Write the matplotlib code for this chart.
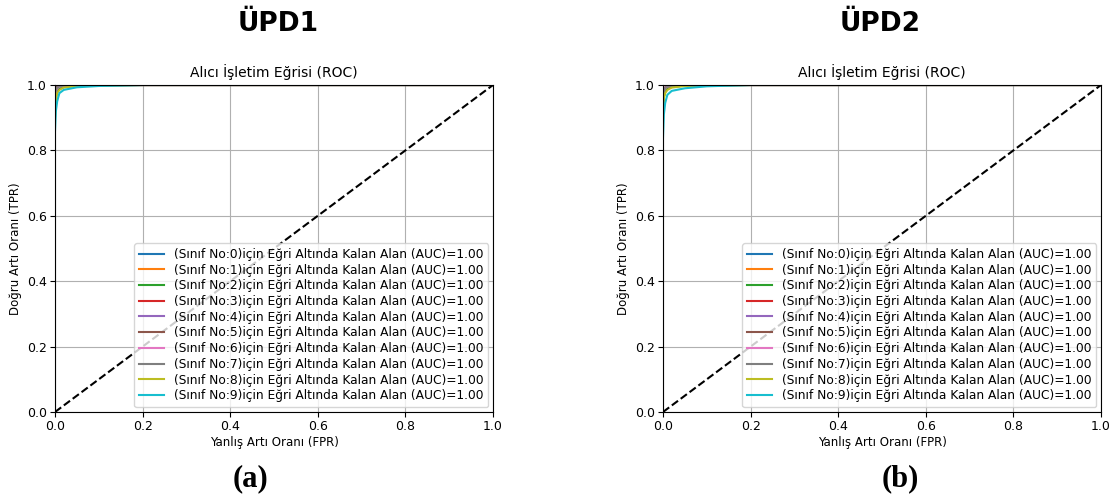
import matplotlib
matplotlib.use("Agg")
import matplotlib.pyplot as plt

classes = list(range(10))
auc_values = [1.00] * 10

# Approximate ROC points per class (FPR, TPR)
fpr_points = [0.0, 0.002, 0.005, 0.01, 0.02, 0.05, 0.1, 0.2, 1.0]
tpr_upd1 = [
    [0.93, 0.97, 0.985, 0.992, 0.996, 0.998, 0.999, 1.0, 1.0],
    [0.95, 0.98, 0.99, 0.995, 0.997, 0.999, 1.0, 1.0, 1.0],
    [0.92, 0.965, 0.98, 0.99, 0.995, 0.998, 0.999, 1.0, 1.0],
    [0.96, 0.985, 0.993, 0.996, 0.998, 0.999, 1.0, 1.0, 1.0],
    [0.97, 0.99, 0.995, 0.997, 0.999, 1.0, 1.0, 1.0, 1.0],
    [0.97, 0.99, 0.995, 0.998, 0.999, 1.0, 1.0, 1.0, 1.0],
    [0.95, 0.98, 0.99, 0.995, 0.997, 0.999, 1.0, 1.0, 1.0],
    [0.96, 0.985, 0.992, 0.996, 0.998, 0.999, 1.0, 1.0, 1.0],
    [0.90, 0.95, 0.975, 0.985, 0.992, 0.997, 0.999, 1.0, 1.0],
    [0.86, 0.92, 0.95, 0.975, 0.985, 0.993, 0.997, 1.0, 1.0],
]
tpr_upd2 = [
    [0.93, 0.965, 0.98, 0.99, 0.995, 0.998, 0.999, 1.0, 1.0],
    [0.95, 0.98, 0.99, 0.994, 0.997, 0.999, 1.0, 1.0, 1.0],
    [0.93, 0.965, 0.98, 0.99, 0.995, 0.998, 0.999, 1.0, 1.0],
    [0.95, 0.98, 0.99, 0.995, 0.997, 0.999, 1.0, 1.0, 1.0],
    [0.96, 0.985, 0.993, 0.996, 0.998, 0.999, 1.0, 1.0, 1.0],
    [0.96, 0.985, 0.993, 0.996, 0.998, 0.999, 1.0, 1.0, 1.0],
    [0.95, 0.98, 0.99, 0.995, 0.997, 0.999, 1.0, 1.0, 1.0],
    [0.95, 0.98, 0.99, 0.995, 0.997, 0.999, 1.0, 1.0, 1.0],
    [0.92, 0.96, 0.975, 0.985, 0.992, 0.997, 0.999, 1.0, 1.0],
    [0.84, 0.91, 0.945, 0.97, 0.982, 0.99, 0.996, 1.0, 1.0],
]

panel_titles = ["ÜPD1", "ÜPD2"]
panel_labels = ["(a)", "(b)"]
ax_title = "Alıcı İşletim Eğrisi (ROC)"
xlabel = "Yanlış Artı Oranı (FPR)"
ylabel = "Doğru Artı Oranı (TPR)"

fig = plt.figure(figsize=(11.13, 4.97), dpi=100)
W, H = 1113, 497
lefts = [55 / W, 663 / W]
title_x = [278 / W, 880 / W]
label_x = [251 / W, 900 / W]
for i, tprs in enumerate([tpr_upd1, tpr_upd2]):
    ax = fig.add_axes([lefts[i], 1 - 412 / H, 438 / W, 327 / H])
    for c, tpr in zip(classes, tprs):
        ax.plot(fpr_points, tpr, lw=1.5,
                label=f"(Sınıf No:{c})için Eğri Altında Kalan Alan (AUC)={auc_values[c]:.2f}")
    ax.plot([0, 1], [0, 1], "k--", lw=1.5)
    ax.set_xlim(0, 1)
    ax.set_ylim(0, 1)
    ax.grid(True)
    ax.set_title(ax_title, fontsize=10)
    ax.set_xlabel(xlabel, fontsize=8.5, labelpad=2)
    ax.set_ylabel(ylabel, fontsize=8.5, labelpad=3)
    ax.tick_params(labelsize=9, pad=2.5)
    ax.legend(loc="lower right", fontsize=8.8, handlelength=2.0,
              labelspacing=0.22, borderaxespad=0.4)
    fig.text(title_x[i], 1 - 31 / H, panel_titles[i], ha="center", va="baseline",
             fontsize=19, fontweight="bold", family="DejaVu Sans")
    fig.text(label_x[i], 1 - 479 / H, panel_labels[i], ha="center", va="center",
             fontsize=22, fontweight="bold", family="Liberation Serif")

fig.savefig("out.png", dpi=100)
